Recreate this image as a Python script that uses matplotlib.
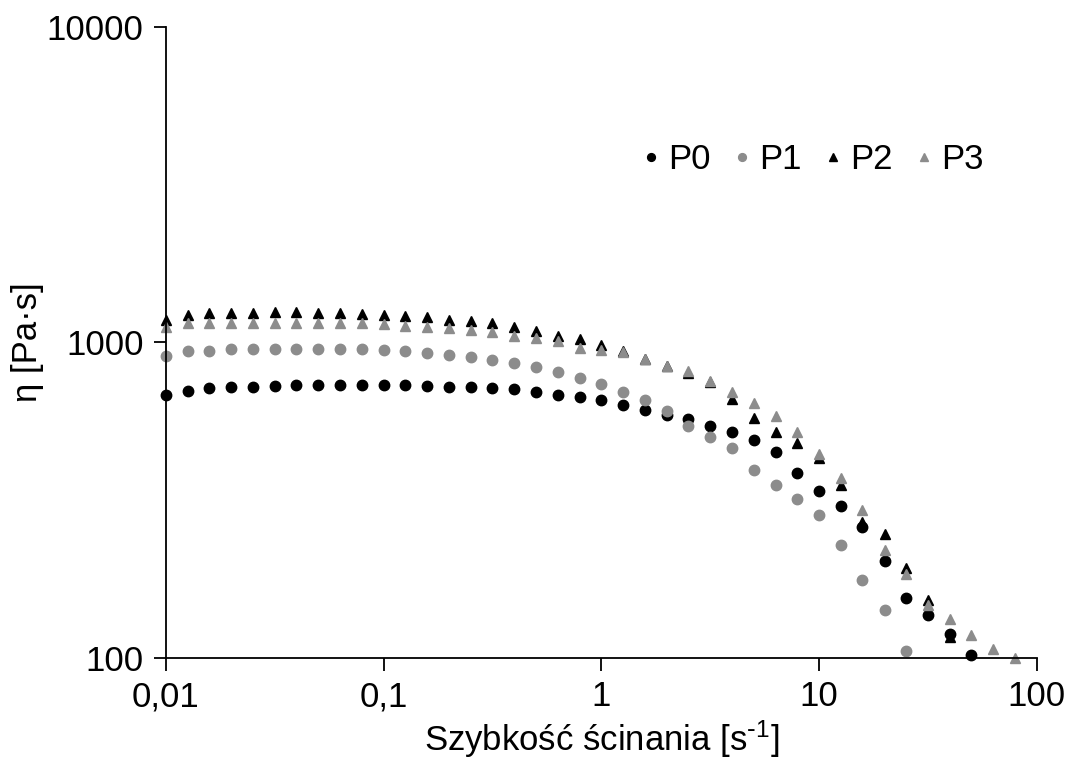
import matplotlib
matplotlib.use('Agg')
import matplotlib.pyplot as plt

plt.rcParams['font.family'] = ['Liberation Sans', 'DejaVu Sans']
plt.rcParams['mathtext.default'] = 'regular'

# shear rate grid [1/s], 10 points per decade
shear_rate = [0.01, 0.0126, 0.0158, 0.02, 0.0251, 0.0316, 0.0398, 0.0501, 0.0631, 0.0794,
              0.1, 0.126, 0.158, 0.2, 0.251, 0.316, 0.398, 0.501, 0.631, 0.794,
              1, 1.26, 1.58, 2, 2.51, 3.16, 3.98, 5.01, 6.31, 7.94,
              10, 12.6, 15.8, 20, 25.1, 31.6, 39.8, 50.1, 63.1, 79.4]

# viscosity [Pa*s]
p0 = [682, 702, 718, 720, 724, 726, 730, 733, 733, 733, 733, 731, 728, 724, 721, 714, 711, 697, 683, 670,
      654, 633, 611, 589, 571, 544, 520, 491, 450, 385, 339, 303, 260, 203, 155, 137, 119, 102]
p1 = [906, 935, 940, 952, 954, 955, 955, 955, 954, 952, 947, 935, 924, 913, 901, 880, 860, 835, 806, 773,
      738, 698, 657, 604, 541, 500, 462, 393, 353, 318, 284, 228, 176, 142, 105]
p2 = [1178, 1222, 1235, 1238, 1238, 1243, 1243, 1238, 1235, 1232, 1222, 1207, 1200, 1180, 1164, 1150, 1114,
      1082, 1049, 1023, 982, 935, 885, 843, 802, 746, 663, 575, 518, 481, 429, 353, 270, 247, 192, 153, 116]
p3 = [1121, 1150, 1152, 1155, 1155, 1155, 1155, 1155, 1152, 1150, 1142, 1128, 1121, 1109, 1096, 1075, 1049,
      1029, 1011, 959, 947, 929, 885, 843, 809, 752, 698, 644, 585, 521, 443, 371, 293, 220, 184, 147, 133,
      118, 107, 100]

labels = ['P0', 'P1', 'P2', 'P3']
gray = '#8c8c8c'

fig = plt.figure(figsize=(10.7, 7.64), dpi=100)
ax = fig.add_axes([0.155, 0.139, 0.814, 0.826])

ax.plot(shear_rate[:len(p0)], p0, 'o', color='black', ms=7.5, label=labels[0], clip_on=False)
ax.plot(shear_rate[:len(p1)], p1, 'o', color=gray, ms=7.5, label=labels[1], clip_on=False)
ax.plot(shear_rate[:len(p2)], p2, '^', color='black', ms=7.5, label=labels[2], clip_on=False)
ax.plot(shear_rate[:len(p3)], p3, '^', color=gray, ms=7.5, label=labels[3], clip_on=False)

ax.set_xscale('log')
ax.set_yscale('log')
ax.set_xlim(0.01, 100)
ax.set_ylim(100, 10000)

ax.set_xticks([0.01, 0.1, 1, 10, 100])
ax.set_xticklabels(['0,01', '0,1', '1', '10', '100'])
ax.set_yticks([100, 1000, 10000])
ax.set_yticklabels(['100', '1000', '10000'])
ax.minorticks_off()

for s in ['top', 'right']:
    ax.spines[s].set_visible(False)
for s in ['left', 'bottom']:
    ax.spines[s].set_linewidth(1.3)
ax.tick_params(direction='out', length=9, width=1.3, labelsize=25, pad=7)

ax.set_xlabel('Szybkość ścinania [s$^{\\text{-}1}$]', fontsize=25, labelpad=4)
ax.set_ylabel('η [Pa·s]', fontsize=25, labelpad=2)

ax.legend(loc='upper right', bbox_to_anchor=(0.975, 0.865), ncol=4, frameon=False, fontsize=25,
          markerscale=0.75, handlelength=0.5, handletextpad=0.25, columnspacing=0.65)

fig.savefig('out.png', dpi=100)
